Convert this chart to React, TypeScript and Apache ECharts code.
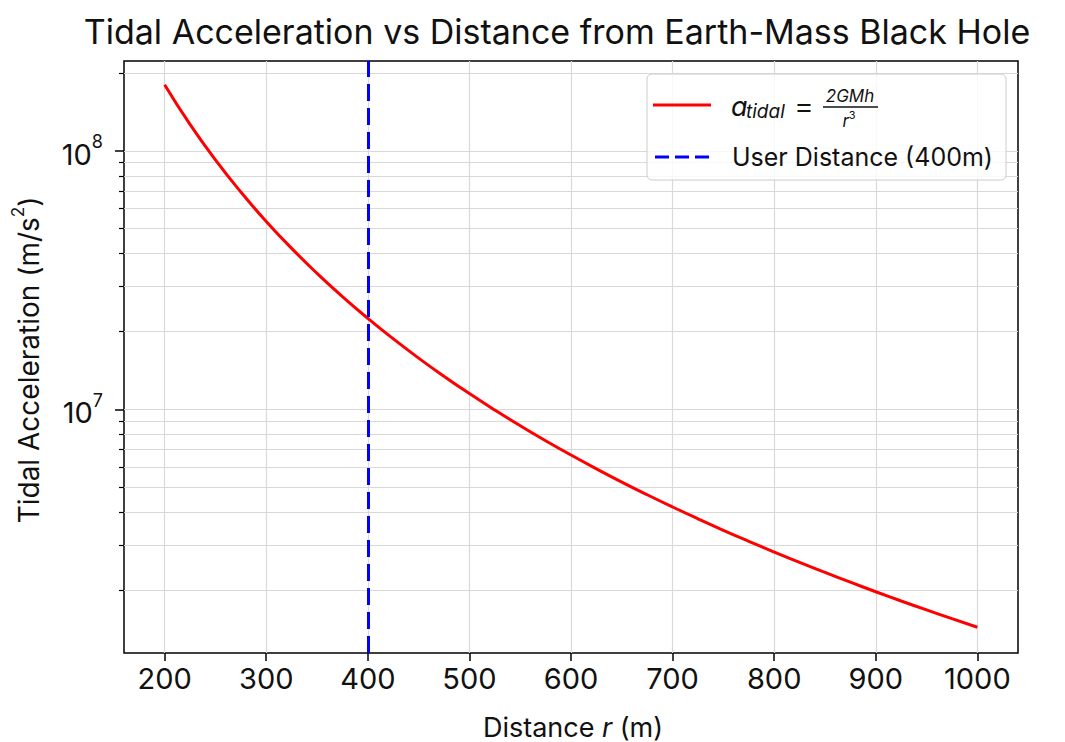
import React, { useEffect, useRef } from 'react';
import * as echarts from 'echarts';

// Distance from the black hole (m)
const distances = [
  200, 225, 250, 275, 300, 325, 350, 375, 400, 425, 450, 475, 500, 525, 550, 575, 600,
  625, 650, 675, 700, 725, 750, 775, 800, 825, 850, 875, 900, 925, 950, 975, 1000,
];
// Tidal acceleration (m/s^2)
const tidalAccel = [
  1.8e8, 1.264e8, 9.216e7, 6.924e7, 5.333e7, 4.195e7, 3.359e7, 2.731e7, 2.25e7, 1.876e7,
  1.58e7, 1.344e7, 1.152e7, 9.951e6, 8.655e6, 7.575e6, 6.667e6, 5.898e6, 5.243e6, 4.682e6,
  4.198e6, 3.779e6, 3.413e6, 3.094e6, 2.8125e6, 2.564e6, 2.345e6, 2.15e6, 1.975e6, 1.819e6,
  1.68e6, 1.554e6, 1.44e6,
];
const userDistance = 400;
const xTicks = [200, 300, 400, 500, 600, 700, 800, 900, 1000];
const yMajorTicks = [1e7, 1e8];
const yMinorTicks = [
  2e6, 3e6, 4e6, 5e6, 6e6, 7e6, 8e6, 9e6,
  2e7, 3e7, 4e7, 5e7, 6e7, 7e7, 8e7, 9e7,
  2e8,
];
const yMin = 1.145e6;
const yMax = 2.223e8;

const FONT = 'Inter';
const INK = '#111111';
const GRID_COLOR = '#d9d9d9';

export default function App() {
  const ref = useRef<HTMLDivElement>(null);
  useEffect(() => {
    if (!ref.current) return;
    const chart = echarts.init(ref.current, null, { renderer: 'svg' });
    const gridStyle = { color: GRID_COLOR, width: 1.2 };
    const option: any = {
      animation: false,
      backgroundColor: '#ffffff',
      textStyle: { fontFamily: FONT },
      grid: {
        left: 124, right: 47, top: 61, bottom: 89,
        show: true, borderColor: '#000', borderWidth: 1.5, backgroundColor: 'transparent',
      },
      xAxis: {
        type: 'value', min: 160, max: 1040,
        axisLine: { show: false },
        axisTick: { show: true, customValues: xTicks, length: 8, lineStyle: { color: '#000', width: 1.5 } },
        axisLabel: {
          customValues: xTicks, fontSize: 29, color: INK, margin: 11, fontFamily: FONT,
          formatter: (v: number) => String(v),
        },
        splitLine: { show: true, lineStyle: gridStyle },
      },
      yAxis: [
        {
          type: 'log', logBase: 10, min: yMin, max: yMax,
          axisLine: { show: false },
          axisTick: { show: true, customValues: yMajorTicks, length: 9, lineStyle: { color: '#000', width: 1.5 } },
          axisLabel: {
            customValues: yMajorTicks, margin: 21, color: INK,
            formatter: (v: number) => '{b|10}{sup|' + Math.round(Math.log10(v)) + '}',
            rich: {
              b: { fontSize: 29, fontFamily: FONT, color: INK, lineHeight: 36, verticalAlign: 'bottom' },
              sup: { fontSize: 18, fontFamily: FONT, color: INK, verticalAlign: 'top' },
            },
          },
          splitLine: { show: true, lineStyle: gridStyle },
        },
        {
          type: 'log', logBase: 10, min: yMin, max: yMax, position: 'left',
          axisLine: { show: false },
          axisTick: { show: true, customValues: yMinorTicks, length: 5, lineStyle: { color: '#000', width: 1.2 } },
          axisLabel: { show: false },
          splitLine: { show: true, lineStyle: gridStyle },
        },
      ],
      series: [
        {
          name: 'a_tidal = 2GMh/r³',
          type: 'line',
          yAxisIndex: 0,
          data: distances.map((d, i) => [d, tidalAccel[i]]),
          showSymbol: false,
          smooth: true,
          lineStyle: { color: '#ff0000', width: 3 },
          z: 3,
        },
        {
          name: 'User Distance (400m)',
          type: 'line',
          yAxisIndex: 0,
          data: [],
          markLine: {
            silent: true, symbol: 'none', label: { show: false },
            lineStyle: { color: '#0000ff', width: 3, type: [17, 7] },
            data: [{ xAxis: userDistance }],
          },
          z: 4,
        },
      ],
      graphic: [
        {
          type: 'text', x: 557, y: 31,
          style: { text: 'Tidal Acceleration vs Distance from Earth-Mass Black Hole', fontSize: 34, fontFamily: FONT, fill: INK, align: 'center', verticalAlign: 'middle' },
        },
        {
          type: 'text', x: 573, y: 727,
          style: {
            text: '{n|Distance }{i|r}{n| (m)}', align: 'center', verticalAlign: 'middle',
            rich: {
              n: { fontSize: 27, fontFamily: FONT, fill: INK, lineHeight: 28 },
              i: { fontSize: 27, fontFamily: FONT, fontStyle: 'italic', fill: INK, lineHeight: 28 },
            },
          },
        },
        {
          type: 'text', x: 26, y: 360, rotation: Math.PI / 2,
          style: {
            text: '{n|Tidal Acceleration (m/s}{sup|2}{n|)}', align: 'center', verticalAlign: 'middle',
            rich: {
              n: { fontSize: 28, fontFamily: FONT, fill: INK, lineHeight: 34, verticalAlign: 'bottom' },
              sup: { fontSize: 17, fontFamily: FONT, fill: INK, verticalAlign: 'top' },
            },
          },
        },
        // legend
        {
          type: 'rect', shape: { x: 647, y: 74, width: 359, height: 106, r: 5 },
          style: { fill: 'rgba(255,255,255,0.8)', stroke: '#cccccc', lineWidth: 1 }, z: 100,
        },
        { type: 'line', shape: { x1: 653, y1: 105, x2: 711, y2: 105 }, style: { stroke: '#ff0000', lineWidth: 3 }, z: 101 },
        { type: 'line', shape: { x1: 655, y1: 157, x2: 711, y2: 157 }, style: { stroke: '#0000ff', lineWidth: 3, lineDash: [14, 6] }, z: 101 },
        { type: 'text', x: 731, y: 106, style: { text: 'a', fontSize: 27, fontStyle: 'italic', fontFamily: FONT, fill: INK, verticalAlign: 'middle' }, z: 101 },
        { type: 'text', x: 746, y: 111, style: { text: 'tidal', fontSize: 19, fontStyle: 'italic', fontFamily: FONT, fill: INK, verticalAlign: 'middle' }, z: 101 },
        { type: 'text', x: 804, y: 105, style: { text: '=', fontSize: 32, fontWeight: 300, fontFamily: FONT, fill: INK, align: 'center', verticalAlign: 'middle' }, z: 101 },
        { type: 'text', x: 850, y: 96, style: { text: '2GMh', fontSize: 17, fontStyle: 'italic', fontFamily: FONT, fill: INK, align: 'center', verticalAlign: 'middle' }, z: 101 },
        { type: 'line', shape: { x1: 823, y1: 107, x2: 878, y2: 107 }, style: { stroke: INK, lineWidth: 1.5 }, z: 101 },
        {
          type: 'text', x: 849, y: 119,
          style: {
            text: '{i|r}{s|3}', align: 'center', verticalAlign: 'middle',
            rich: {
              i: { fontSize: 17, fontStyle: 'italic', fontFamily: FONT, fill: INK, lineHeight: 20, verticalAlign: 'bottom' },
              s: { fontSize: 11, fontFamily: FONT, fill: INK, verticalAlign: 'top' },
            },
          },
          z: 101,
        },
        { type: 'text', x: 732, y: 157, style: { text: 'User Distance (400m)', fontSize: 25, fontFamily: FONT, fill: INK, verticalAlign: 'middle' }, z: 101 },
      ],
    };
    chart.setOption(option);
    return () => chart.dispose();
  }, []);
  return <div ref={ref} style={{ position: 'fixed', left: 0, top: 0, width: 1065, height: 742 }} />;
}
